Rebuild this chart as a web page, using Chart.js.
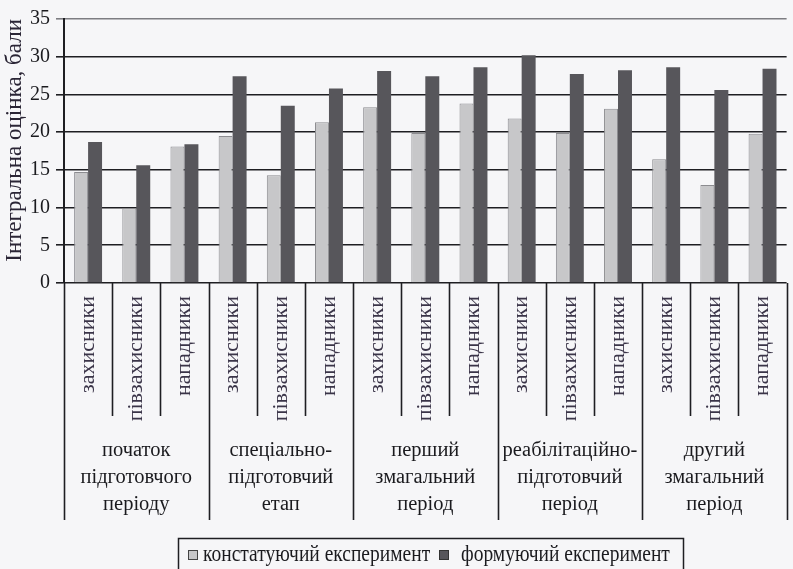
<!DOCTYPE html>
<html>
<head>
<meta charset="utf-8">
<script src="https://cdn.jsdelivr.net/npm/chart.js@4.4.0/dist/chart.umd.min.js"></script>
<style>
  html, body { margin:0; padding:0; background:#f6f6f8; overflow:hidden; }
  #wrap { position:relative; width:802px; height:569px; }
</style>
</head>
<body>
<div id="wrap"><canvas id="c"></canvas></div>
<script>
const positions = ['захисники','півзахисники','нападники'];
const groups = [
  ['початок','підготовчого','періоду'],
  ['спеціально-','підготовчий','етап'],
  ['перший','змагальний','період'],
  ['реабілітаційно-','підготовчий','період'],
  ['другий','змагальний','період']
];
const categories = [
  'захисники','півзахисники','нападники',
  'захисники','півзахисники','нападники',
  'захисники','півзахисники','нападники',
  'захисники','півзахисники','нападники',
  'захисники','півзахисники','нападники'
];
const seriesNames = ['констатуючий експеримент','формуючий експеримент'];
const constValues = [14.7, 9.9, 18.1, 19.5, 14.3, 21.3, 23.3, 19.9, 23.8, 21.8, 19.9, 23.1, 16.4, 13.0, 19.8];
const formValues  = [18.7, 15.6, 18.4, 27.4, 23.5, 25.8, 28.1, 27.4, 28.6, 30.2, 27.7, 28.2, 28.6, 25.6, 28.4];
const yTicks = [0,5,10,15,20,25,30,35];
const yTitle = 'Інтегральна оцінка, бали';

const SERIF = '"Liberation Serif", "Times New Roman", serif';
const lightColor = '#c7c7c9';
const darkColor = '#57565b';

const bgPlugin = {
  id: 'bg',
  beforeDraw(chart) {
    const ctx = chart.ctx;
    ctx.save();
    ctx.fillStyle = '#f6f6f8';
    ctx.fillRect(0, 0, chart.width, chart.height);
    ctx.restore();
  }
};

function stretchedText(ctx, t, x, y, sy) {
  ctx.save();
  ctx.translate(x, y);
  ctx.scale(1, sy);
  ctx.fillText(t, 0, 0);
  ctx.restore();
}

const axisPlugin = {
  id: 'groupAxis',
  afterDraw(chart) {
    const ctx = chart.ctx;
    const x = chart.scales.x;
    const area = chart.chartArea;
    const n = categories.length;
    const step = (x.getPixelForValue(1) - x.getPixelForValue(0));
    const subBottom = 416, grpBottom = 520;
    ctx.save();
    ctx.strokeStyle = '#1e1e22';
    ctx.lineWidth = 1.6;
    for (let i = 0; i <= n; i++) {
      const px = Math.round(x.getPixelForValue(0) - step / 2 + i * step) + 0.5;
      const isGroup = (i % 3 === 0);
      ctx.beginPath();
      ctx.moveTo(px, area.bottom);
      ctx.lineTo(px, isGroup ? grpBottom : subBottom);
      ctx.stroke();
    }
    // group labels
    ctx.fillStyle = '#1a1a1e';
    ctx.font = '20.5px ' + SERIF;
    ctx.textAlign = 'center';
    ctx.textBaseline = 'middle';
    const lineYs = [451, 478, 505];
    groups.forEach((lines, g) => {
      const cx = (x.getPixelForValue(g * 3) + x.getPixelForValue(g * 3 + 2)) / 2;
      lines.forEach((t, k) => ctx.fillText(t, cx, lineYs[k]));
    });
    // legend
    const lx0 = 178.5, lx1 = 683.5, ly0 = 538.5, ly1 = 575;
    ctx.strokeStyle = '#1e1e22';
    ctx.lineWidth = 1.5;
    ctx.strokeRect(lx0, ly0, lx1 - lx0, ly1 - ly0);
    ctx.font = '19.5px ' + SERIF;
    ctx.textAlign = 'left';
    ctx.textBaseline = 'middle';
    const ty = 555;
    ctx.fillStyle = lightColor;
    ctx.fillRect(188, 550, 10, 10);
    ctx.strokeStyle = '#444';
    ctx.lineWidth = 1;
    ctx.strokeRect(188.5, 550.5, 9, 9);
    ctx.fillStyle = '#1a1a1e';
    stretchedText(ctx, seriesNames[0], 203, ty, 1.15);
    ctx.fillStyle = darkColor;
    ctx.fillRect(439, 550, 10, 10);
    ctx.strokeStyle = '#333';
    ctx.strokeRect(439.5, 550.5, 9, 9);
    ctx.fillStyle = '#1a1a1e';
    stretchedText(ctx, seriesNames[1], 461, ty, 1.15);
    ctx.restore();
  }
};

new Chart(document.getElementById('c'), {
  type: 'bar',
  data: {
    labels: categories,
    datasets: [
      { label: seriesNames[0], data: constValues, backgroundColor: lightColor, borderColor: '#8c8c90', borderWidth: 1 },
      { label: seriesNames[1], data: formValues, backgroundColor: darkColor, borderWidth: 0 }
    ]
  },
  options: {
    responsive: true,
    maintainAspectRatio: false,
    animation: false,
    devicePixelRatio: 1,
    layout: { padding: { top: 19, right: 2, bottom: 0, left: 0 } },
    datasets: { bar: { categoryPercentage: 0.58, barPercentage: 1.0 } },
    plugins: { legend: { display: false }, tooltip: { enabled: false } },
    scales: {
      x: {
        type: 'category',
        offset: true,
        grid: { display: false, drawTicks: false },
        border: { display: false },
        ticks: {
          autoSkip: false,
          minRotation: 90,
          maxRotation: 90,
          padding: 13,
          color: '#3a3448',
          font: { family: SERIF, size: 22 }
        },
        afterFit(scale) { scale.height = 286; }
      },
      y: {
        min: 0,
        max: 35,
        afterBuildTicks(scale) { scale.ticks = yTicks.map(v => ({ value: v })); },
        grid: {
          color: (c) => (c.tick && c.tick.value === 35) ? '#7d7d82' : '#1e1e22',
          lineWidth: 1.6,
          tickLength: 8,
          drawTicks: true
        },
        border: { display: true, color: '#1e1e22', width: 2 },
        ticks: {
          padding: 6,
          color: '#1a1a1e',
          font: { family: SERIF, size: 20 }
        },
        title: {
          display: true,
          text: yTitle,
          align: 'end',
          color: '#2a2535',
          font: { family: SERIF, size: 23 },
          padding: { top: 1, bottom: 0 }
        },
        afterFit(scale) { scale.width = 64; }
      }
    }
  },
  plugins: [bgPlugin, axisPlugin]
});
</script>
</body>
</html>
